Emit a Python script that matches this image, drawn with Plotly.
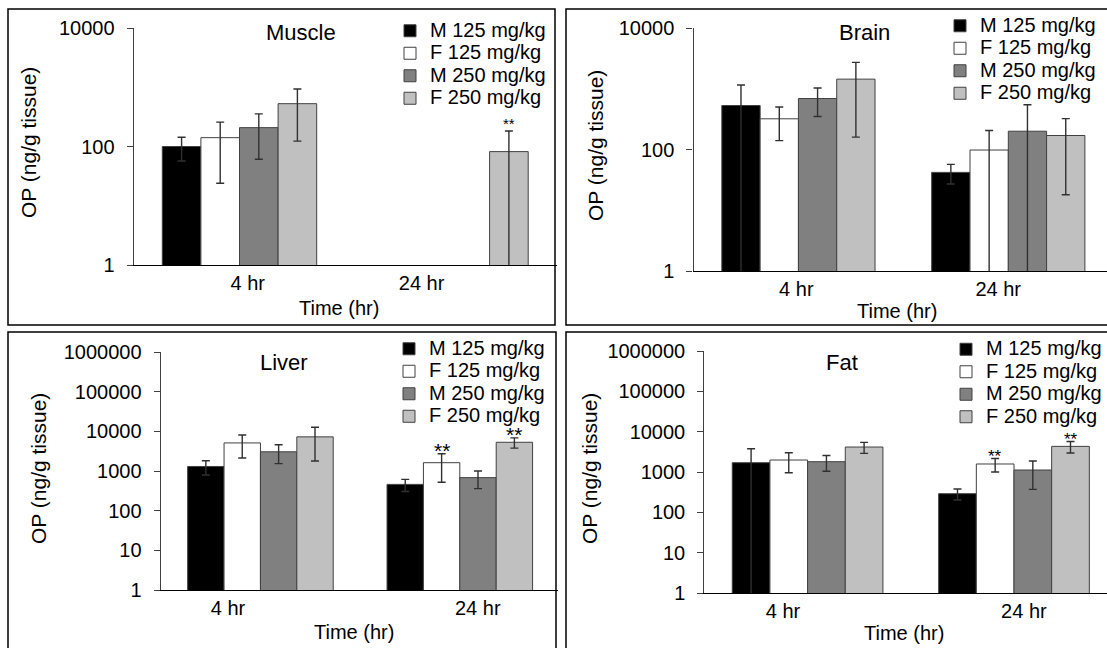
import math
import plotly.graph_objects as go

# ---- data -------------------------------------------------------------
groups = ["4 hr", "24 hr"]
series = ["M 125 mg/kg", "F 125 mg/kg", "M 250 mg/kg", "F 250 mg/kg"]
colors = ["#000000", "#FFFFFF", "#808080", "#C0C0C0"]

# mean OP (ng/g tissue) per series, [4 hr, 24 hr]
muscle_mean = [[100, None], [141, None], [208, None], [528, 82]]
muscle_sd = [[43, None], [117, None], [147, None], [405, 101]]

brain_mean = [[530, 42], [320, 98], [690, 200], [1440, 170]]
brain_sd = [[620, 15], [180, 107], [340, 345], [1280, 152]]

liver_mean = [[1300, 460], [5100, 1620], [3050, 680], [7250, 5300]]
liver_sd = [[510, 155], [2970, 1100], [1520, 320], [5470, 1535]]

fat_mean = [[1700, 290], [1980, 1580], [1800, 1120], [4160, 4320]]
fat_sd = [[2080, 88], [1025, 580], [760, 750], [1260, 1370]]

# significance marks: (series index, group index)
muscle_sig = [(3, 1)]
liver_sig = [(1, 1), (3, 1)]
fat_sig = [(1, 1), (3, 1)]

top_ticks = [1, 100, 10000]
top_ticktext = ["1", "100", "10000"]
bottom_ticks = [1, 10, 100, 1000, 10000, 100000, 1000000]
bottom_ticktext = ["1", "10", "100", "1000", "10000", "100000", "1000000"]

# ---- layout helpers ---------------------------------------------------
W, H = 1107, 648
FONT = "Liberation Sans, Arial, sans-serif"
BARGAP = 0.27
LEGEND_TEXT = 20   # rendered size of legend labels
LEGEND_ROW = 15    # legend font size that sets the row pitch


def px_x(v):
    return v / W


def px_y(v):
    return 1 - v / H


panels = [
    dict(name="Muscle", mean=muscle_mean, sd=muscle_sd, sig=muscle_sig, star=15, starshift=7,
         xdom=(133.75, 556.75), xr=(-0.5, 1.5), ydom=(28, 265), yr=(0, 4),
         yt=(top_ticks, top_ticktext), xtick=(0.039, 0.861),
         box=(8, 9, 555, 325), title=(301, 32), xtitle=(339, 308), ytitle=(28, 143),
         leg=(390, 14.5)),
    dict(name="Brain", mean=brain_mean, sd=brain_sd, sig=[], star=15, starshift=3,
         xdom=(693.5, 1107), xr=(-0.5, 1.4703), ydom=(28, 271), yr=(0, 4),
         yt=(top_ticks, top_ticktext), xtick=(-0.01, 0.952),
         box=(566, 9, 1112, 325), title=(864, 32), xtitle=(897, 311), ytitle=(595, 146),
         leg=(940, 9.5)),
    dict(name="Liver", mean=liver_mean, sd=liver_sd, sig=liver_sig, star=21, starshift=3,
         xdom=(160.75, 558), xr=(-0.5, 1.4925), ydom=(352, 590), yr=(0, 6),
         yt=(bottom_ticks, bottom_ticktext), xtick=(-0.163, 1.09),
         box=(8, 332, 556, 652), title=(284, 362), xtitle=(354, 632), ytitle=(38, 469),
         leg=(389, 332.5)),
    dict(name="Fat", mean=fat_mean, sd=fat_sd, sig=fat_sig, star=17, starshift=2,
         xdom=(704.4, 1107), xr=(-0.5, 1.4506), ydom=(351, 593), yr=(0, 6),
         yt=(bottom_ticks, bottom_ticktext), xtick=(-0.119, 1.048),
         box=(566, 332, 1112, 652), title=(842, 362), xtitle=(904, 633), ytitle=(589, 469),
         leg=(946, 333)),
]

fig = go.Figure()
annotations = []
shapes = []
layout = {}

for k, p in enumerate(panels):
    n = "" if k == 0 else str(k + 1)
    xa, ya = "x" + n, "y" + n
    leg = "legend" + n

    for i, s in enumerate(series):
        fig.add_trace(go.Bar(
            x=[0, 1], y=p["mean"][i],
            name=f'<span style="font-size:{LEGEND_TEXT}px">{s}</span>',
            marker=dict(color=colors[i], line=dict(color="#404040", width=1)),
            error_y=dict(type="data", array=p["sd"][i], visible=True,
                         color="#303030", thickness=1.4, width=4),
            xaxis=xa, yaxis=ya, legend=leg, showlegend=True,
        ))

    layout["xaxis" + n] = dict(
        domain=[px_x(p["xdom"][0]), px_x(p["xdom"][1])], range=list(p["xr"]),
        anchor=ya, showline=True, linecolor="#000000", linewidth=1.3,
        showgrid=False, zeroline=False, ticks="", automargin=False,
        tickvals=list(p["xtick"]), ticktext=groups,
        tickfont=dict(family=FONT, size=20, color="#000000"),
    )
    layout["yaxis" + n] = dict(
        domain=[px_y(p["ydom"][1]), px_y(p["ydom"][0])], type="log", range=list(p["yr"]),
        anchor=xa, showline=True, linecolor="#404040", linewidth=1.3,
        showgrid=False, zeroline=False, ticks="outside", ticklen=6, automargin=False,
        tickcolor="#404040", tickwidth=1.3, ticklabelstandoff=8,
        tickvals=p["yt"][0], ticktext=p["yt"][1],
        tickfont=dict(family=FONT, size=20, color="#000000"),
    )
    layout[leg] = dict(
        x=px_x(p["leg"][0]), y=px_y(p["leg"][1]), xanchor="left", yanchor="top",
        bgcolor="rgba(0,0,0,0)", borderwidth=0,
        font=dict(family=FONT, size=LEGEND_ROW, color="#000000"),
        traceorder="normal",
    )

    bx0, by0, bx1, by1 = p["box"]
    shapes.append(dict(type="rect", xref="paper", yref="paper",
                       x0=px_x(bx0), x1=px_x(bx1), y0=px_y(by1), y1=px_y(by0),
                       line=dict(color="#000000", width=1.5), layer="below"))

    annotations.append(dict(text=p["name"], xref="paper", yref="paper",
                            x=px_x(p["title"][0]), y=px_y(p["title"][1]),
                            xanchor="center", yanchor="middle", showarrow=False,
                            font=dict(family=FONT, size=22, color="#000000")))
    annotations.append(dict(text="Time (hr)", xref="paper", yref="paper",
                            x=px_x(p["xtitle"][0]), y=px_y(p["xtitle"][1]),
                            xanchor="center", yanchor="middle", showarrow=False,
                            font=dict(family=FONT, size=20, color="#000000")))
    annotations.append(dict(text="OP (ng/g tissue)", xref="paper", yref="paper",
                            x=px_x(p["ytitle"][0]), y=px_y(p["ytitle"][1]),
                            xanchor="center", yanchor="middle", showarrow=False,
                            textangle=-90,
                            font=dict(family=FONT, size=21, color="#000000")))

    # "**" above the error bar of significant bars
    w = (1 - BARGAP) / len(series)
    for (si, gi) in p["sig"]:
        top = p["mean"][si][gi] + p["sd"][si][gi]
        annotations.append(dict(text="**", xref=xa, yref=ya,
                                x=gi + (si - (len(series) - 1) / 2) * w,
                                y=math.log10(top),
                                xanchor="center", yanchor="middle", yshift=p["starshift"],
                                showarrow=False,
                                font=dict(family=FONT, size=p["star"], color="#000000")))

fig.update_layout(
    width=W, height=H, margin=dict(l=0, r=0, t=0, b=0, autoexpand=False),
    paper_bgcolor="#FFFFFF", plot_bgcolor="rgba(0,0,0,0)",
    barmode="group", bargap=BARGAP, bargroupgap=0,
    annotations=annotations, shapes=shapes,
    font=dict(family=FONT, color="#000000"),
    **layout,
)

fig.write_html("out.html")
